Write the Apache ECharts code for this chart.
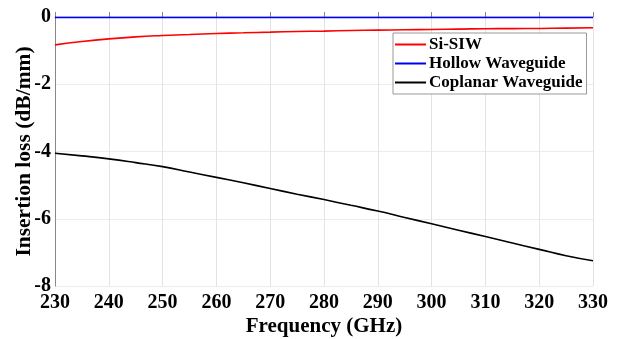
<!DOCTYPE html>
<html><head><meta charset="utf-8">
<script src="https://cdn.jsdelivr.net/npm/echarts@6/dist/echarts.min.js"></script>
<style>html,body{margin:0;padding:0;background:#fff}#c{width:624px;height:339px}</style>
</head><body><div id="c"></div>
<script>
const freq = [230,235,240,245,250,255,260,265,270,275,280,285,290,295,300,305,310,315,320,325,330];
const siSIW = [-0.83,-0.73,-0.65,-0.59,-0.55,-0.52,-0.49,-0.47,-0.45,-0.43,-0.42,-0.40,-0.39,-0.38,-0.37,-0.36,-0.35,-0.345,-0.34,-0.33,-0.32];
const hollow = [-0.01,-0.01,-0.01,-0.01,-0.01,-0.01,-0.01,-0.01,-0.01,-0.01,-0.01,-0.01,-0.01,-0.01,-0.01,-0.01,-0.01,-0.01,-0.01,-0.01,-0.01];
const coplanar = [-4.05,-4.13,-4.22,-4.33,-4.45,-4.61,-4.77,-4.93,-5.10,-5.27,-5.43,-5.60,-5.77,-5.96,-6.15,-6.34,-6.53,-6.72,-6.91,-7.10,-7.25];
const seriesNames = ['Si-SIW','Hollow Waveguide','Coplanar Waveguide'];
const font = 'Liberation Serif';
const mk = (arr) => freq.map((f,i)=>[f,arr[i]]);
const chart = echarts.init(document.getElementById('c'));
chart.setOption({
  animation:false,
  textStyle:{fontFamily:font},
  grid:{left:55,right:31,top:17,bottom:53,containLabel:false,outerBoundsMode:'none'},
  legend:{
    orient:'vertical', left:393, top:33, padding:[3,4,3,2],
    borderColor:'#999', borderWidth:1, backgroundColor:'#fff',
    itemWidth:31, itemHeight:2, itemGap:2,
    icon:'rect',
    textStyle:{fontFamily:font,fontWeight:'bold',fontSize:17,color:'#000',padding:[0,0,0,-2],lineHeight:17},
    data:seriesNames
  },
  xAxis:{
    type:'value', min:230, max:330, interval:10,
    name:'Frequency (GHz)', nameLocation:'middle', nameGap:30, nameMoveOverlap:false,
    nameTextStyle:{fontFamily:font,fontWeight:'bold',fontSize:21,color:'#000'},
    axisLine:{lineStyle:{color:'#888'}},
    axisTick:{inside:true,length:5,lineStyle:{color:'#888'}},
    axisLabel:{fontFamily:font,fontWeight:'bold',fontSize:20,color:'#000',margin:7},
    splitLine:{show:true,lineStyle:{color:'#e3e3e3'}}
  },
  yAxis:{
    type:'value', min:-8, max:0, interval:2,
    name:'Insertion loss (dB/mm)', nameLocation:'middle', nameGap:20, nameMoveOverlap:false,
    nameTextStyle:{fontFamily:font,fontWeight:'bold',fontSize:21.5,color:'#000'},
    axisLine:{show:true,lineStyle:{color:'#888'}},
    axisTick:{show:false},
    axisLabel:{fontFamily:font,fontWeight:'bold',fontSize:20,color:'#000',margin:4},
    splitLine:{show:true,lineStyle:{color:'#ececec'}}
  },
  series:[
    {name:seriesNames[0],type:'line',data:mk(siSIW),showSymbol:false,smooth:true,lineStyle:{color:'#ff0000',width:1.6},itemStyle:{color:'#ff0000'}},
    {name:seriesNames[1],type:'line',data:mk(hollow),showSymbol:false,lineStyle:{color:'#0000ee',width:1.6},itemStyle:{color:'#0000ee'}},
    {name:seriesNames[2],type:'line',data:mk(coplanar),showSymbol:false,smooth:true,lineStyle:{color:'#000',width:1.6},itemStyle:{color:'#000'}}
  ]
});
</script></body></html>
